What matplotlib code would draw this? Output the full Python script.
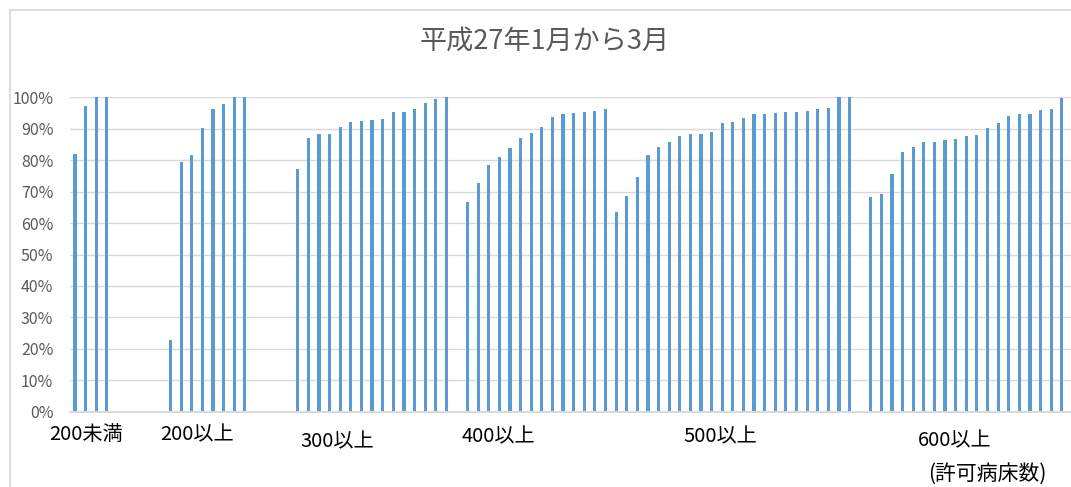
import matplotlib
matplotlib.use('Agg')
import matplotlib.pyplot as plt
from matplotlib.lines import Line2D
import numpy as np

plt.rcParams['font.family'] = ['Noto Sans CJK JP', 'DejaVu Sans']

# データ（許可病床数の区分ごと、値は割合）
g200_under = [82.1, 97.2, 100, 100]
g200 = [22.8, 79.4, 81.5, 90.3, 96.3, 97.9, 100, 100]
g300 = [77.1, 87.0, 88.2, 88.4, 90.5, 92.2, 92.5, 92.9, 93.1, 95.2, 95.3, 96.3, 98.2, 99.4, 100]
g400 = [66.8, 72.9, 78.4, 81.0, 83.9, 87.0, 88.8, 90.5, 93.7, 94.7, 95.0, 95.2, 95.8, 96.3]
g500 = [63.5, 68.5, 74.8, 81.8, 84.2, 85.9, 87.6, 88.2, 88.4, 89.0, 91.8, 92.0, 93.5,
        94.7, 94.7, 95.0, 95.3, 95.4, 95.7, 96.3, 96.6, 100, 100]
g600 = [68.2, 69.1, 75.5, 82.5, 84.2, 85.7, 85.9, 86.4, 86.6, 87.8, 88.1, 90.1, 91.7,
        94.1, 94.7, 94.7, 95.9, 96.3, 99.8]
groups = [g200_under, g200, g300, g400, g500, g600]
gaps = [5, 4, 1, 0, 1]   # 区分の間の空き
labels = ['200未満', '200以上', '300以上', '400以上', '500以上', '600以上']

# 棒の位置
xs, ys = [], []
pos = 0
for i, g in enumerate(groups):
    for v in g:
        xs.append(pos)
        ys.append(v / 100)
        pos += 1
    if i < len(gaps):
        pos += gaps[i]

W, H = 1071, 487
fig = plt.figure(figsize=(W / 100, H / 100), dpi=100)
ax = fig.add_axes([70 / W, 1 - 411.7 / H, 1 - 70 / W, (411.7 - 97.3) / H])

ax.bar(xs, ys, width=0.3, color='#5B9BD5', zorder=3)
ax.set_xlim(-0.47, 93.87)
ax.set_ylim(0, 1)
ax.set_yticks(np.arange(0, 1.01, 0.1))
ax.set_yticklabels(['%d%%' % v for v in range(0, 101, 10)])
ax.tick_params(axis='y', length=0, pad=12, labelsize=11.5, labelcolor='#595959')
ax.set_xticks([])
ax.grid(axis='y', color='#D9D9D9', linewidth=1, zorder=0)
for s in ['top', 'right', 'left']:
    ax.spines[s].set_visible(False)
ax.spines['bottom'].set_color('#D9D9D9')
ax.spines['bottom'].set_linewidth(1.5)
ax.spines['bottom'].set_zorder(4)

# タイトル
fig.text(545 / W, 1 - 41 / H, '平成27年1月から3月', ha='center', va='center',
         fontsize=19.5, color='#595959')

# 区分ラベル
lab_pos = [(86, 435), (197, 435), (337, 442), (498, 437), (720, 437), (955, 441)]
for t, (px, py) in zip(labels, lab_pos):
    fig.text(px / W, 1 - py / H, t, ha='center', va='center', fontsize=14.5, color='black')
fig.text(987 / W, 1 - 474 / H, '(許可病床数)', ha='center', va='center', fontsize=15,
         color='black')

# 枠線
fig.add_artist(Line2D([10 / W, 1], [1 - 10 / H, 1 - 10 / H], color='#D9D9D9', linewidth=1.2))
fig.add_artist(Line2D([10 / W, 10 / W], [0, 1 - 10 / H], color='#D9D9D9', linewidth=1.2))

fig.savefig('out.png', dpi=100)
